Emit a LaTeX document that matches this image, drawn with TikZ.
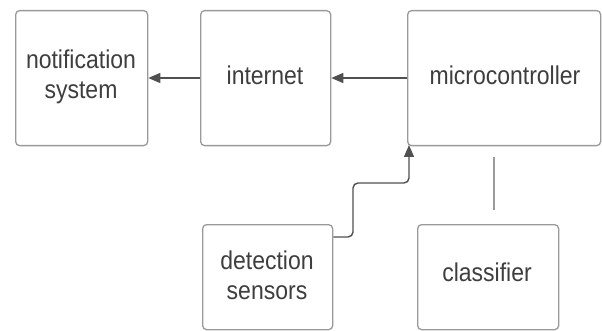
\documentclass[tikz,border=0pt]{standalone}
\usepackage{fontspec}
\setmainfont{Liberation Sans}
\usetikzlibrary{arrows.meta}
\definecolor{boxc}{HTML}{9A9A9A}
\definecolor{txtc}{HTML}{3E3E3E}
\definecolor{linec}{HTML}{505050}
\tikzset{
  blk/.style={draw=boxc, line width=1.3pt, rounded corners=4pt, fill=white, inner sep=0pt},
  lbl/.style={text=txtc, font=\fontsize{23}{27}\selectfont, align=center, yscale=1.12},
  conn/.style={draw=linec, line width=1.4pt, -{Triangle[length=12pt,width=10pt]}},
  plain/.style={draw=boxc, line width=1.4pt}
}
\begin{document}
\begin{tikzpicture}[x=1pt,y=-1pt]
\useasboundingbox (0,0) rectangle (602,331);
\node[blk, minimum width=132pt, minimum height=135pt, anchor=north west] (ns) at (15,10) {};
\node[lbl] (nst) at (81,77) {notification\\system};
\node[blk, minimum width=130pt, minimum height=135pt, anchor=north west] (in) at (200,10) {};
\node[lbl] (int) at (265,75) {internet};
\node[blk, minimum width=193pt, minimum height=135pt, anchor=north west] (mc) at (407,10) {};
\node[lbl] (mct) at (505,75) {microcontroller};
\node[blk, minimum width=130pt, minimum height=105pt, anchor=north west] (ds) at (202,224) {};
\node[lbl] (dst) at (267,275) {detection\\sensors};
\node[blk, minimum width=141pt, minimum height=105pt, anchor=north west] (cl) at (417,224) {};
\node[lbl] (clt) at (487,272) {classifier};
\draw[conn] (in.west |- 0,78) -- (ns.east |- 0,78);
\draw[conn] (mc.west |- 0,78) -- (in.east |- 0,78);
\coordinate (dsout) at (ds.east |- 0,237);
\coordinate (mcin) at (409,145);
\draw[conn, rounded corners=5pt] (dsout) -- (353,237) -- (353,183) -- (409,183) -- (mcin);
\coordinate (c1) at (494,157);
\coordinate (c2) at (494,210);
\draw[plain] (c1) -- (c2);
\end{tikzpicture}
\end{document}
